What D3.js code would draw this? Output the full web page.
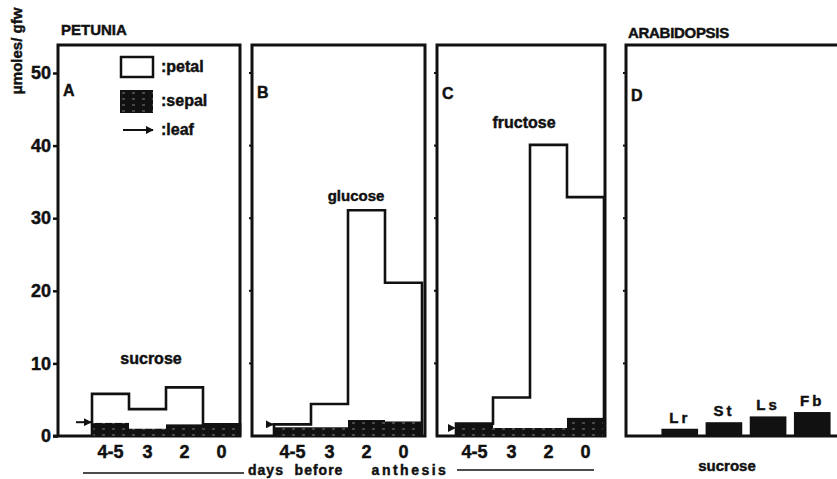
<!DOCTYPE html>
<html>
<head>
<meta charset="utf-8">
<script src="https://cdn.jsdelivr.net/npm/d3@7"></script>
<style>
  html, body { margin: 0; padding: 0; background: #fff; }
  svg { display: block; }
  text { font-family: "Liberation Sans", Arial, sans-serif; font-weight: bold; fill: #111; stroke: #111; stroke-width: 0.45px; }
</style>
</head>
<body>
<svg id="chart" width="837" height="479"></svg>
<script>
// ---- data ----
const days = ["4-5", "3", "2", "0"];
const sucrosePetal = [5.8, 3.7, 6.7, 1.6];
const sucroseSepal = [1.8, 1.0, 1.6, 1.6];
const sucroseLeaf = 1.9;
const glucosePetal = [1.6, 4.4, 31.1, 21.1];
const glucoseSepal = [1.2, 1.2, 2.2, 2.0];
const glucoseLeaf = 1.6;
const fructosePetal = [1.7, 5.3, 40.1, 32.9];
const fructoseSepal = [1.7, 1.1, 1.1, 2.5];
const fructoseLeaf = 1.1;
const arabCats = ["Lr", "St", "Ls", "Fb"];
const arabSucrose = [1.0, 1.9, 2.7, 3.3];
const yTicks = [0, 10, 20, 30, 40, 50];

// ---- setup ----
const svg = d3.select("#chart");
const y = d3.scaleLinear().domain([0, 50]).range([436, 73]);
const boxTop = 45;
const ink = "#111";

const defs = svg.append("defs");
const pat = defs.append("pattern").attr("id", "sepalHatch")
  .attr("patternUnits", "userSpaceOnUse").attr("width", 10).attr("height", 6);
pat.append("rect").attr("width", 10).attr("height", 6).attr("fill", ink);
pat.append("line").attr("x1", 2).attr("x2", 5).attr("y1", 3).attr("y2", 3)
  .attr("stroke", "#999").attr("stroke-width", 0.8);
const mk = defs.append("marker").attr("id", "arrowHead").attr("viewBox", "0 0 10 10")
  .attr("refX", 9).attr("refY", 5).attr("markerWidth", 4).attr("markerHeight", 4)
  .attr("orient", "auto");
mk.append("path").attr("d", "M0,0 L10,5 L0,10 Z").attr("fill", ink);

function box(x0, x1, openRight) {
  const p = openRight
    ? `M${x1},${boxTop} L${x0},${boxTop} L${x0},${y(0)} L${x1},${y(0)}`
    : `M${x0},${boxTop} L${x1},${boxTop} L${x1},${y(0)} L${x0},${y(0)} Z`;
  svg.append("path").attr("d", p).attr("fill", "none").attr("stroke", ink)
    .attr("stroke-width", 3).attr("stroke-linejoin", "miter");
}

function sideTicks(x0) {
  svg.append("g").selectAll("line").data(yTicks.slice(1)).join("line")
    .attr("x1", x0 - 3).attr("x2", x0).attr("y1", d => y(d)).attr("y2", d => y(d))
    .attr("stroke", ink).attr("stroke-width", 2);
}

function petuniaPanel(cfg) {
  const x = d3.scaleBand().domain(days).range(cfg.bars).padding(0);
  box(cfg.box[0], cfg.box[1], false);
  // sepal
  svg.append("g").selectAll("rect").data(days).join("rect")
    .attr("x", d => x(d)).attr("width", x.bandwidth())
    .attr("y", (d, i) => y(cfg.sepal[i])).attr("height", (d, i) => y(0) - y(cfg.sepal[i]))
    .attr("fill", "url(#sepalHatch)");
  // petal outline (step)
  const pts = [[x(days[0]), 0]];
  days.forEach((d, i) => { pts.push([x(d), cfg.petal[i]]); pts.push([x(d) + x.bandwidth(), cfg.petal[i]]); });
  pts.push([x(days[3]) + x.bandwidth(), 0]);
  svg.append("path").attr("d", d3.line().x(p => p[0]).y(p => y(p[1]))(pts))
    .attr("fill", "none").attr("stroke", ink).attr("stroke-width", 2.6);
  // leaf arrow
  svg.append("line").attr("x1", cfg.box[0] + 18).attr("x2", x(days[0]) - 1)
    .attr("y1", y(cfg.leaf)).attr("y2", y(cfg.leaf))
    .attr("stroke", ink).attr("stroke-width", 2).attr("marker-end", "url(#arrowHead)");
  // tick labels
  svg.append("g").selectAll("text").data(days).join("text")
    .attr("x", d => x(d) + x.bandwidth() / 2).attr("y", 458)
    .attr("text-anchor", "middle").style("font-size", "18px").text(d => d);
  // panel letter and sugar name
  svg.append("text").attr("x", cfg.box[0] + 5).attr("y", cfg.letterY).style("font-size", "16px").text(cfg.letter);
  svg.append("text").attr("x", cfg.label[0]).attr("y", cfg.label[1]).attr("text-anchor", "middle")
    .style("font-size", cfg.labelSize).text(cfg.name);
}

// Panel A with y axis
const axis = d3.axisLeft(y).tickValues(yTicks).tickSize(5).tickPadding(2);
const ga = svg.append("g").attr("transform", "translate(58,0)").call(axis);
ga.select(".domain").remove();
ga.selectAll(".tick line").attr("stroke", ink).attr("stroke-width", 2.5);
ga.selectAll(".tick text").style("font-size", "18px").style("font-family", "Liberation Sans, Arial, sans-serif")
  .style("font-weight", "bold").attr("fill", ink);
svg.append("line").attr("x1", 53).attr("x2", 58).attr("y1", y(0)).attr("y2", y(0)).attr("stroke", ink).attr("stroke-width", 3);

petuniaPanel({ box: [58, 240], bars: [92, 240], petal: sucrosePetal, sepal: sucroseSepal, leaf: sucroseLeaf,
  letter: "A", letterY: 96, name: "sucrose", label: [151, 364], labelSize: "16px" });
petuniaPanel({ box: [252, 425], bars: [274, 422], petal: glucosePetal, sepal: glucoseSepal, leaf: glucoseLeaf,
  letter: "B", letterY: 98, name: "glucose", label: [356, 201], labelSize: "15px" });
petuniaPanel({ box: [437, 605], bars: [456, 604], petal: fructosePetal, sepal: fructoseSepal, leaf: fructoseLeaf,
  letter: "C", letterY: 99, name: "fructose", label: [524, 128], labelSize: "16px" });
sideTicks(252); sideTicks(437); sideTicks(626);

// Panel D
box(626, 845, true);
const xd = d3.scaleBand().domain(arabCats).range([657, 835]).paddingInner(0.17).paddingOuter(0.1);
svg.append("g").selectAll("rect").data(arabCats).join("rect")
  .attr("x", d => xd(d)).attr("width", xd.bandwidth())
  .attr("y", (d, i) => y(arabSucrose[i])).attr("height", (d, i) => y(0) - y(arabSucrose[i]))
  .attr("fill", ink);
svg.append("g").selectAll("text").data(arabCats).join("text")
  .attr("x", d => xd(d) + xd.bandwidth() / 2).attr("y", (d, i) => y(arabSucrose[i]) - 6)
  .attr("text-anchor", "middle").style("font-size", "15px").style("letter-spacing", "3px").text(d => d);
svg.append("text").attr("x", 631).attr("y", 101).style("font-size", "16px").text("D");
svg.append("text").attr("x", 727).attr("y", 471).attr("text-anchor", "middle").style("font-size", "15px").text("sucrose");

// titles
svg.append("text").attr("x", 61).attr("y", 35).style("font-size", "15px").text("PETUNIA");
svg.append("text").attr("x", 628).attr("y", 38).style("font-size", "15px").style("letter-spacing", "-0.3px").text("ARABIDOPSIS");

// y label
svg.append("text").attr("transform", "translate(22,51) rotate(-90)").attr("text-anchor", "middle")
  .style("font-size", "15px").text("μmoles/  gfw");

// legend
svg.append("rect").attr("x", 121).attr("y", 57).attr("width", 32).attr("height", 20)
  .attr("fill", "#fff").attr("stroke", ink).attr("stroke-width", 2.5);
svg.append("rect").attr("x", 120).attr("y", 90).attr("width", 33).attr("height", 23).attr("fill", "url(#sepalHatch)");
svg.append("line").attr("x1", 123).attr("x2", 153).attr("y1", 130).attr("y2", 130)
  .attr("stroke", ink).attr("stroke-width", 2).attr("marker-end", "url(#arrowHead)");
const legItems = [[":petal", 72], [":sepal", 106], [":leaf", 135]];
svg.append("g").selectAll("text").data(legItems).join("text")
  .attr("x", 161).attr("y", d => d[1]).style("font-size", "16px").text(d => d[0]);

// x axis caption
svg.append("line").attr("x1", 83).attr("x2", 244).attr("y1", 473).attr("y2", 473).attr("stroke", ink).attr("stroke-width", 1.5);
svg.append("line").attr("x1", 457).attr("x2", 594).attr("y1", 470).attr("y2", 470).attr("stroke", ink).attr("stroke-width", 1.5);
[["days", 266, "1px"], ["before", 319, "1px"], ["anthesis", 410, "2.5px"]].forEach(([t, xx, ls]) => {
  svg.append("text").attr("x", xx).attr("y", 475).attr("text-anchor", "middle")
    .style("font-size", "14px").style("letter-spacing", ls).text(t);
});
</script>
</body>
</html>
